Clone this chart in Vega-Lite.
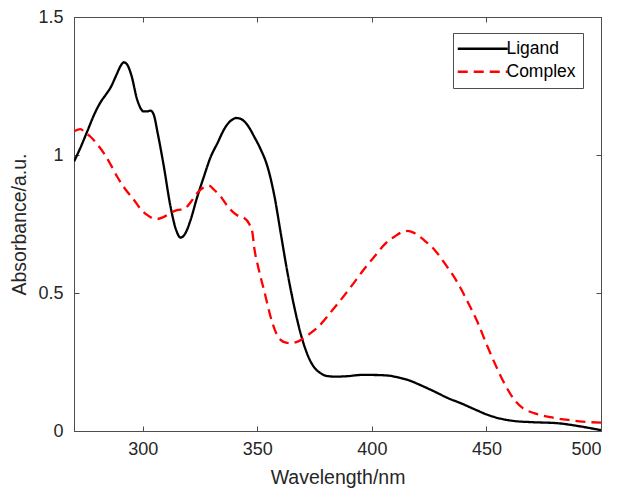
{
  "$schema": "https://vega.github.io/schema/vega-lite/v6.json",
  "width": 527,
  "height": 414,
  "autosize": {"type": "none"},
  "padding": {"left": 74, "top": 17, "right": 18, "bottom": 57},
  "background": "white",
  "config": {
    "font": "Liberation Sans",
    "view": {"stroke": "#4d4d4d", "strokeWidth": 1},
    "axis": {
      "domainColor": "#4d4d4d",
      "tickColor": "#4d4d4d",
      "tickSize": -5,
      "grid": false,
      "labelColor": "#262626",
      "titleColor": "#262626",
      "labelFontSize": 18,
      "titleFontSize": 19.5,
      "titleFontWeight": "normal",
      "labelFont": "Liberation Sans",
      "titleFont": "Liberation Sans"
    }
  },
  "data": {
    "values": [
      {"wl": 270, "A": 0.976, "s": "Ligand"},
      {"wl": 273, "A": 1.03, "s": "Ligand"},
      {"wl": 276, "A": 1.09, "s": "Ligand"},
      {"wl": 279, "A": 1.15, "s": "Ligand"},
      {"wl": 281.5, "A": 1.19, "s": "Ligand"},
      {"wl": 284, "A": 1.22, "s": "Ligand"},
      {"wl": 286, "A": 1.245, "s": "Ligand"},
      {"wl": 288.5, "A": 1.29, "s": "Ligand"},
      {"wl": 290.5, "A": 1.325, "s": "Ligand"},
      {"wl": 291.7, "A": 1.336, "s": "Ligand"},
      {"wl": 293, "A": 1.33, "s": "Ligand"},
      {"wl": 295, "A": 1.29, "s": "Ligand"},
      {"wl": 297.6, "A": 1.2, "s": "Ligand"},
      {"wl": 300.4, "A": 1.158, "s": "Ligand"},
      {"wl": 302, "A": 1.158, "s": "Ligand"},
      {"wl": 303.4, "A": 1.161, "s": "Ligand"},
      {"wl": 304.8, "A": 1.146, "s": "Ligand"},
      {"wl": 306.5, "A": 1.08, "s": "Ligand"},
      {"wl": 309.2, "A": 0.959, "s": "Ligand"},
      {"wl": 312.1, "A": 0.814, "s": "Ligand"},
      {"wl": 314.5, "A": 0.73, "s": "Ligand"},
      {"wl": 316.5, "A": 0.701, "s": "Ligand"},
      {"wl": 318.5, "A": 0.715, "s": "Ligand"},
      {"wl": 320.9, "A": 0.765, "s": "Ligand"},
      {"wl": 323.5, "A": 0.84, "s": "Ligand"},
      {"wl": 326.7, "A": 0.922, "s": "Ligand"},
      {"wl": 329.5, "A": 0.99, "s": "Ligand"},
      {"wl": 332.6, "A": 1.043, "s": "Ligand"},
      {"wl": 336, "A": 1.1, "s": "Ligand"},
      {"wl": 339, "A": 1.128, "s": "Ligand"},
      {"wl": 340.9, "A": 1.134, "s": "Ligand"},
      {"wl": 343, "A": 1.13, "s": "Ligand"},
      {"wl": 346, "A": 1.105, "s": "Ligand"},
      {"wl": 348.6, "A": 1.067, "s": "Ligand"},
      {"wl": 351.5, "A": 1.02, "s": "Ligand"},
      {"wl": 354.4, "A": 0.959, "s": "Ligand"},
      {"wl": 357.5, "A": 0.85, "s": "Ligand"},
      {"wl": 360.2, "A": 0.718, "s": "Ligand"},
      {"wl": 363.2, "A": 0.572, "s": "Ligand"},
      {"wl": 366.1, "A": 0.451, "s": "Ligand"},
      {"wl": 369.7, "A": 0.33, "s": "Ligand"},
      {"wl": 372.5, "A": 0.265, "s": "Ligand"},
      {"wl": 374.8, "A": 0.231, "s": "Ligand"},
      {"wl": 377.7, "A": 0.209, "s": "Ligand"},
      {"wl": 380, "A": 0.2, "s": "Ligand"},
      {"wl": 383.6, "A": 0.197, "s": "Ligand"},
      {"wl": 390, "A": 0.199, "s": "Ligand"},
      {"wl": 395, "A": 0.203, "s": "Ligand"},
      {"wl": 400.4, "A": 0.203, "s": "Ligand"},
      {"wl": 406.9, "A": 0.201, "s": "Ligand"},
      {"wl": 411, "A": 0.195, "s": "Ligand"},
      {"wl": 415.7, "A": 0.185, "s": "Ligand"},
      {"wl": 421, "A": 0.167, "s": "Ligand"},
      {"wl": 427.3, "A": 0.143, "s": "Ligand"},
      {"wl": 433, "A": 0.12, "s": "Ligand"},
      {"wl": 439, "A": 0.1, "s": "Ligand"},
      {"wl": 445, "A": 0.078, "s": "Ligand"},
      {"wl": 450.7, "A": 0.058, "s": "Ligand"},
      {"wl": 456, "A": 0.045, "s": "Ligand"},
      {"wl": 462.3, "A": 0.036, "s": "Ligand"},
      {"wl": 470, "A": 0.032, "s": "Ligand"},
      {"wl": 481.3, "A": 0.028, "s": "Ligand"},
      {"wl": 490, "A": 0.018, "s": "Ligand"},
      {"wl": 500, "A": 0.003, "s": "Ligand"},
      {"wl": 270, "A": 1.086, "s": "Complex"},
      {"wl": 272.8, "A": 1.094, "s": "Complex"},
      {"wl": 275, "A": 1.08, "s": "Complex"},
      {"wl": 277.1, "A": 1.067, "s": "Complex"},
      {"wl": 280, "A": 1.04, "s": "Complex"},
      {"wl": 283, "A": 1.007, "s": "Complex"},
      {"wl": 286, "A": 0.965, "s": "Complex"},
      {"wl": 288.8, "A": 0.922, "s": "Complex"},
      {"wl": 292.5, "A": 0.875, "s": "Complex"},
      {"wl": 296.1, "A": 0.838, "s": "Complex"},
      {"wl": 299, "A": 0.805, "s": "Complex"},
      {"wl": 301.9, "A": 0.783, "s": "Complex"},
      {"wl": 304, "A": 0.772, "s": "Complex"},
      {"wl": 306.3, "A": 0.768, "s": "Complex"},
      {"wl": 309, "A": 0.775, "s": "Complex"},
      {"wl": 312.1, "A": 0.79, "s": "Complex"},
      {"wl": 315, "A": 0.8, "s": "Complex"},
      {"wl": 318, "A": 0.804, "s": "Complex"},
      {"wl": 321, "A": 0.83, "s": "Complex"},
      {"wl": 323.8, "A": 0.862, "s": "Complex"},
      {"wl": 326.5, "A": 0.882, "s": "Complex"},
      {"wl": 328.9, "A": 0.889, "s": "Complex"},
      {"wl": 331, "A": 0.875, "s": "Complex"},
      {"wl": 334, "A": 0.85, "s": "Complex"},
      {"wl": 337, "A": 0.815, "s": "Complex"},
      {"wl": 339.8, "A": 0.79, "s": "Complex"},
      {"wl": 342, "A": 0.778, "s": "Complex"},
      {"wl": 344.2, "A": 0.772, "s": "Complex"},
      {"wl": 346.5, "A": 0.75, "s": "Complex"},
      {"wl": 347.9, "A": 0.717, "s": "Complex"},
      {"wl": 348.6, "A": 0.668, "s": "Complex"},
      {"wl": 350.5, "A": 0.59, "s": "Complex"},
      {"wl": 352.9, "A": 0.511, "s": "Complex"},
      {"wl": 356.6, "A": 0.391, "s": "Complex"},
      {"wl": 358.5, "A": 0.35, "s": "Complex"},
      {"wl": 360.2, "A": 0.33, "s": "Complex"},
      {"wl": 362.5, "A": 0.32, "s": "Complex"},
      {"wl": 364.6, "A": 0.318, "s": "Complex"},
      {"wl": 367, "A": 0.322, "s": "Complex"},
      {"wl": 369, "A": 0.33, "s": "Complex"},
      {"wl": 372.5, "A": 0.35, "s": "Complex"},
      {"wl": 376.3, "A": 0.375, "s": "Complex"},
      {"wl": 383, "A": 0.44, "s": "Complex"},
      {"wl": 390.9, "A": 0.523, "s": "Complex"},
      {"wl": 396, "A": 0.58, "s": "Complex"},
      {"wl": 401.1, "A": 0.632, "s": "Complex"},
      {"wl": 406, "A": 0.68, "s": "Complex"},
      {"wl": 410, "A": 0.705, "s": "Complex"},
      {"wl": 413, "A": 0.72, "s": "Complex"},
      {"wl": 415.7, "A": 0.725, "s": "Complex"},
      {"wl": 419, "A": 0.715, "s": "Complex"},
      {"wl": 423, "A": 0.69, "s": "Complex"},
      {"wl": 427.3, "A": 0.657, "s": "Complex"},
      {"wl": 432, "A": 0.605, "s": "Complex"},
      {"wl": 437.5, "A": 0.536, "s": "Complex"},
      {"wl": 442, "A": 0.465, "s": "Complex"},
      {"wl": 446.3, "A": 0.391, "s": "Complex"},
      {"wl": 450, "A": 0.315, "s": "Complex"},
      {"wl": 453.6, "A": 0.246, "s": "Complex"},
      {"wl": 458, "A": 0.17, "s": "Complex"},
      {"wl": 462.3, "A": 0.112, "s": "Complex"},
      {"wl": 466, "A": 0.082, "s": "Complex"},
      {"wl": 471.1, "A": 0.064, "s": "Complex"},
      {"wl": 478, "A": 0.05, "s": "Complex"},
      {"wl": 485.7, "A": 0.04, "s": "Complex"},
      {"wl": 492, "A": 0.034, "s": "Complex"},
      {"wl": 500, "A": 0.03, "s": "Complex"}
    ]
  },
  "layer": [
    {
      "mark": {"type": "line", "interpolate": "monotone", "strokeWidth": 2.3, "clip": true},
      "encoding": {
        "x": {
          "field": "wl", "type": "quantitative",
          "scale": {"domain": [270, 500], "nice": false, "zero": false},
          "axis": {"values": [300, 350, 400, 450, 500], "title": "Wavelength/nm", "labelPadding": 14, "titlePadding": 10}
        },
        "y": {
          "field": "A", "type": "quantitative",
          "scale": {"domain": [0, 1.5], "nice": false},
          "axis": {"values": [0, 0.5, 1, 1.5], "format": "~g", "title": "Absorbance/a.u.", "labelPadding": 16, "titlePadding": 8}
        },
        "color": {
          "field": "s", "type": "nominal",
          "scale": {"domain": ["Ligand", "Complex"], "range": ["#000000", "#ff0000"]},
          "legend": {
            "title": null,
            "orient": "none",
            "legendX": 379,
            "legendY": 16,
            "symbolType": "M-4,0H4",
            "symbolSize": 156.25,
            "symbolOffset": 14,
            "labelOffset": 15,
            "symbolStrokeWidth": 2.3,
            "labelFontSize": 17.5,
            "labelColor": "#000000",
            "labelFont": "Liberation Sans",
            "strokeColor": "#4d4d4d",
            "fillColor": "white",
            "padding": 7,
            "rowPadding": 4
          }
        },
        "strokeDash": {
          "field": "s", "type": "nominal",
          "scale": {"domain": ["Ligand", "Complex"], "range": [[1, 0], [10, 6]]},
          "legend": null
        }
      }
    },
    {
      "mark": {"type": "line", "strokeOpacity": 0},
      "encoding": {
        "x": {
          "field": "wl", "type": "quantitative",
          "scale": {"domain": [270, 500], "nice": false, "zero": false},
          "axis": {"orient": "top", "values": [300, 350, 400, 450, 500], "labels": false, "title": null, "domain": false}
        },
        "y": {
          "field": "A", "type": "quantitative",
          "scale": {"domain": [0, 1.5], "nice": false},
          "axis": {"orient": "right", "values": [0, 0.5, 1, 1.5], "labels": false, "title": null, "domain": false}
        },
        "detail": {"field": "s", "type": "nominal"}
      }
    }
  ],
  "resolve": {"scale": {"x": "independent", "y": "independent"}, "axis": {"x": "independent", "y": "independent"}}
}
